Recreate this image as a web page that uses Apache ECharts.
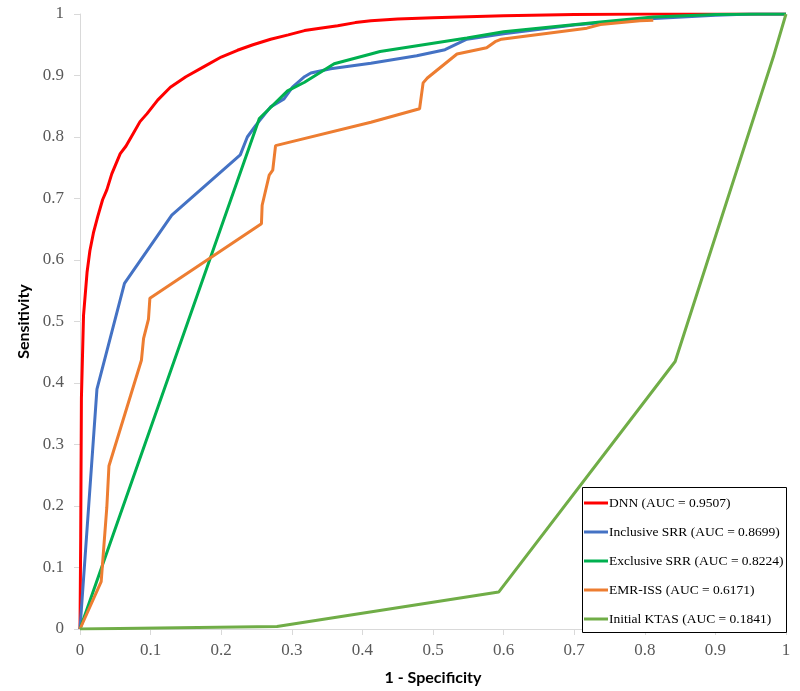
<!DOCTYPE html>
<html>
<head>
<meta charset="utf-8">
<script src="https://cdn.jsdelivr.net/npm/echarts@6/dist/echarts.min.js"></script>
<style>html,body{margin:0;padding:0;background:#fff}#c{width:800px;height:691px}</style>
</head>
<body>
<div id="c"></div>
<script>
const seriesNames = ['DNN (AUC = 0.9507)','Inclusive SRR (AUC = 0.8699)','Exclusive SRR (AUC = 0.8224)','EMR-ISS (AUC = 0.6171)','Initial KTAS (AUC = 0.1841)'];
const seriesColors = ['#FF0000','#4472C4','#00B050','#ED7D31','#70AD47'];
const xTicks = [0,0.1,0.2,0.3,0.4,0.5,0.6,0.7,0.8,0.9,1];
const yTicks = [0,0.1,0.2,0.3,0.4,0.5,0.6,0.7,0.8,0.9,1];

const dnn = [[0,0],[0.001,0.15],[0.002,0.375],[0.005,0.51],[0.01,0.58],[0.014,0.615],[0.019,0.644],[0.025,0.67],[0.032,0.698],[0.038,0.714],[0.045,0.74],[0.057,0.773],[0.065,0.785],[0.075,0.805],[0.085,0.825],[0.095,0.838],[0.11,0.86],[0.128,0.881],[0.15,0.898],[0.175,0.914],[0.2,0.93],[0.223,0.941],[0.245,0.95],[0.27,0.959],[0.295,0.966],[0.318,0.973],[0.34,0.977],[0.365,0.981],[0.39,0.986],[0.412,0.989],[0.45,0.992],[0.5,0.994],[0.6,0.997],[0.7,0.999],[0.8,1],[1,1]];
const inclusiveSRR = [[0,0],[0.024,0.39],[0.063,0.562],[0.13,0.673],[0.227,0.771],[0.237,0.8],[0.249,0.819],[0.27,0.849],[0.289,0.862],[0.301,0.881],[0.318,0.898],[0.327,0.904],[0.355,0.911],[0.412,0.92],[0.477,0.932],[0.517,0.942],[0.548,0.959],[0.6,0.968],[0.7,0.982],[0.8,0.992],[0.9,0.998],[0.95,1],[1,1]];
const exclusiveSRR = [[0,0],[0.254,0.83],[0.294,0.875],[0.318,0.889],[0.36,0.919],[0.412,0.935],[0.425,0.939],[0.548,0.961],[0.6,0.971],[0.737,0.987],[0.812,0.995],[0.9,0.999],[0.96,1],[1,1]];
const emrISS = [[0,0],[0.03,0.077],[0.038,0.198],[0.041,0.265],[0.087,0.437],[0.09,0.472],[0.097,0.504],[0.099,0.538],[0.257,0.659],[0.258,0.689],[0.268,0.738],[0.273,0.746],[0.277,0.786],[0.412,0.824],[0.481,0.846],[0.486,0.888],[0.492,0.896],[0.534,0.935],[0.576,0.945],[0.588,0.955],[0.597,0.959],[0.718,0.977],[0.737,0.983],[0.793,0.989],[0.812,0.99]];
const initialKTAS = [[0,0],[0.279,0.004],[0.593,0.06],[0.843,0.435],[0.982,0.93],[1,1]];

const allData = [dnn, inclusiveSRR, exclusiveSRR, emrISS, initialKTAS];

const chart = echarts.init(document.getElementById('c'));
const axisCommon = {
  type: 'value', min: 0, max: 1, interval: 0.1,
  splitLine: {show: false},
  axisLine: {show: true, lineStyle: {color: '#D9D9D9', width: 1}},
  axisTick: {show: true, length: 6, lineStyle: {color: '#D9D9D9'}},
  axisLabel: {color: '#595959', fontFamily: 'Liberation Serif', fontSize: 17,
    formatter: v => String(Math.round(v*10)/10)},
  nameTextStyle: {fontFamily: 'Lato', fontWeight: 'bold', fontSize: 16, color: '#000'}
};
chart.setOption({
  animation: false,
  backgroundColor: '#fff',
  grid: {left: 80, right: 14, top: 14, bottom: 58, containLabel: false},
  xAxis: Object.assign({}, axisCommon, {
    name: '1 - Specificity', nameLocation: 'middle', nameGap: 41,
    axisLabel: Object.assign({}, axisCommon.axisLabel, {margin: 13})
  }),
  yAxis: Object.assign({}, axisCommon, {
    name: 'Sensitivity', nameLocation: 'middle', nameGap: 40, nameRotate: 90,
    axisLabel: Object.assign({}, axisCommon.axisLabel, {margin: 16})
  }),
  graphic: [{
    type: 'rect', left: 582, top: 487, z: 5,
    shape: {width: 204, height: 145},
    style: {fill: '#fff', stroke: '#000', lineWidth: 1}
  }],
  legend: {
    orient: 'vertical', left: 583, top: 487, z: 6,
    padding: [9, 0, 0, 1],
    itemWidth: 24, itemHeight: 3, itemGap: 15,
    icon: 'rect',
    textStyle: {fontFamily: 'Liberation Serif', fontSize: 13.5, color: '#000', padding: [0,0,0,-4]},
    data: seriesNames
  },
  series: seriesNames.map((n, i) => ({
    name: n, type: 'line', data: allData[i], showSymbol: false, symbol: 'none',
    lineStyle: {color: seriesColors[i], width: 3},
    itemStyle: {color: seriesColors[i]},
    z: 2
  }))
});
</script>
</body>
</html>
